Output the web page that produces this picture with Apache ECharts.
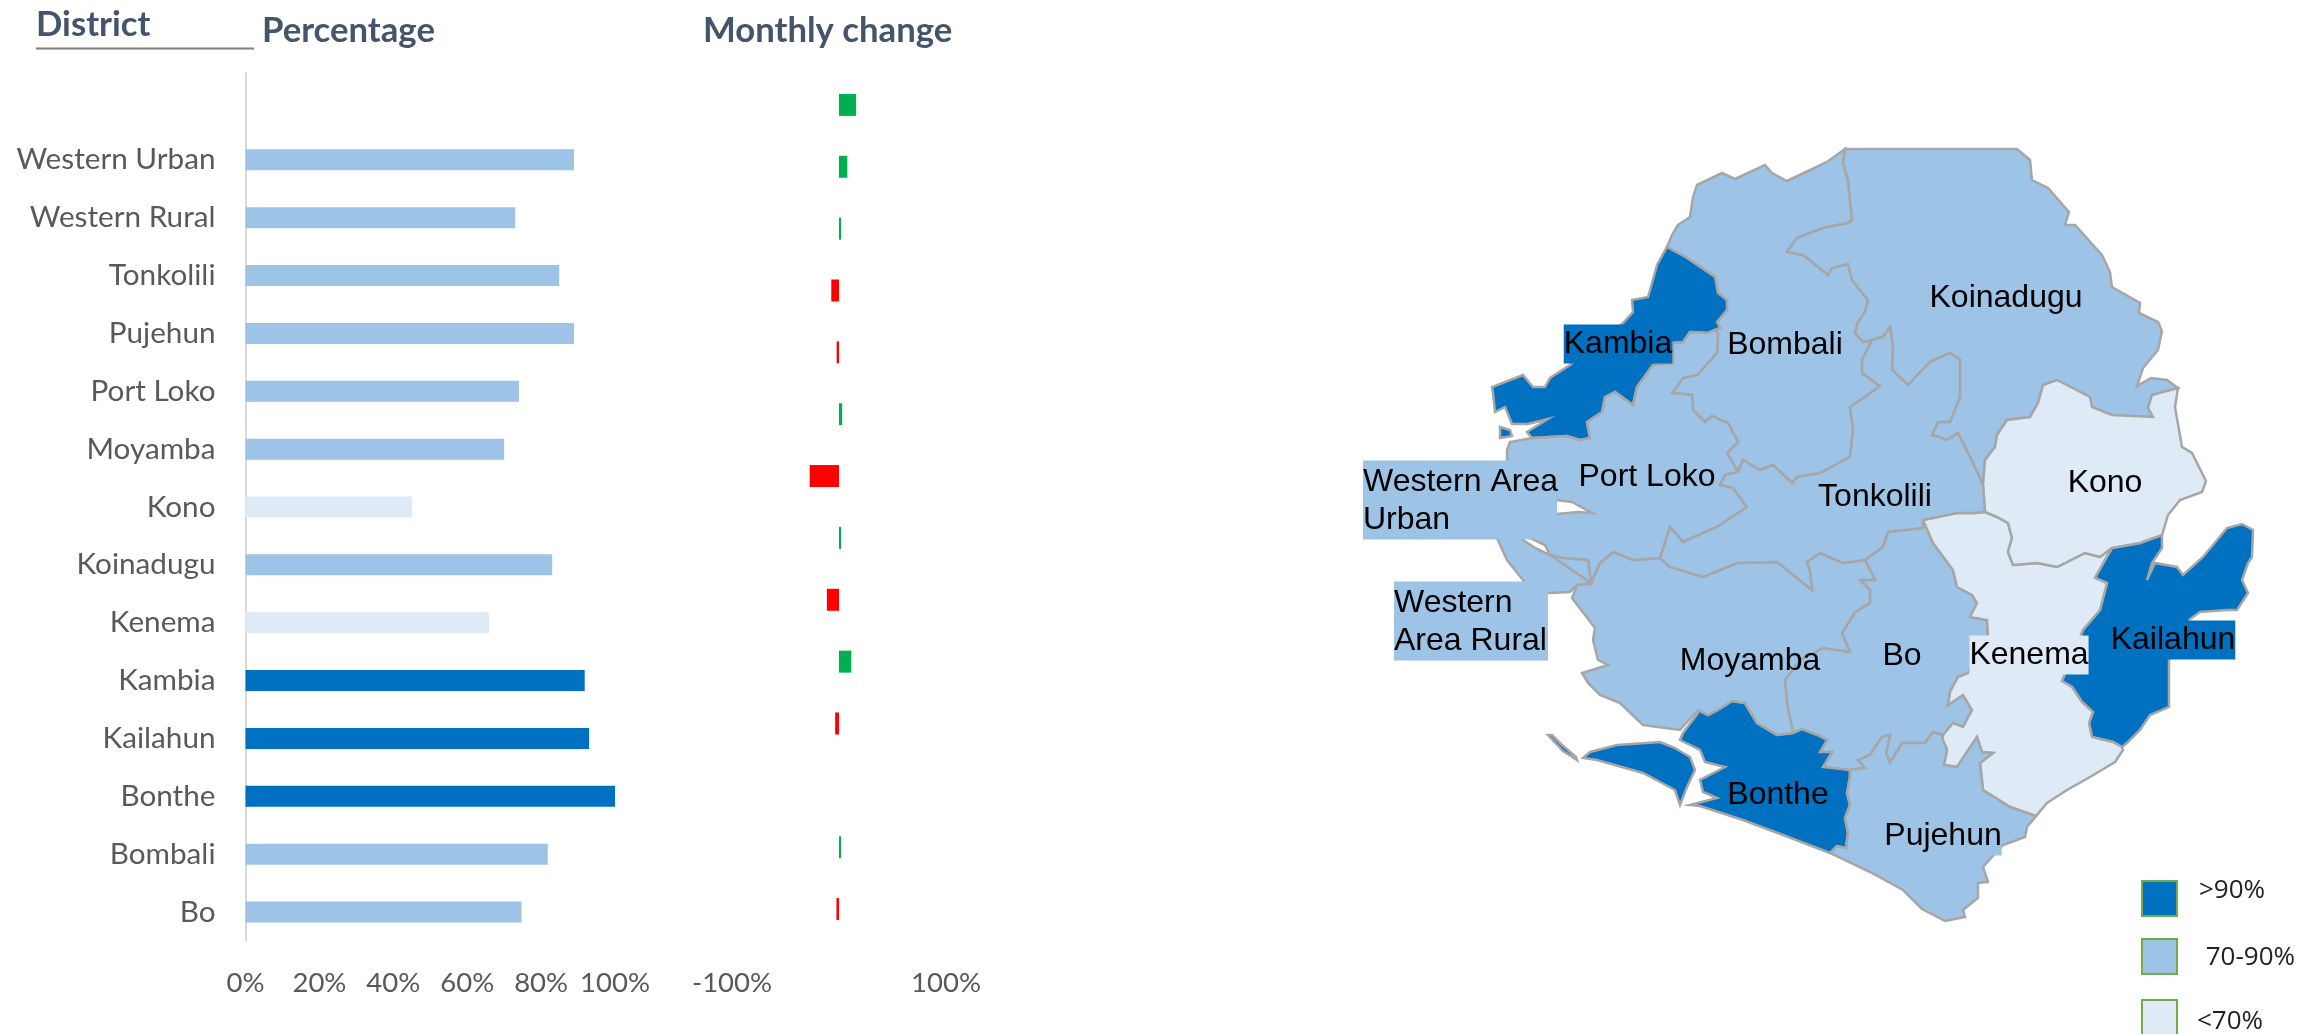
<!DOCTYPE html>
<html>
<head>
<meta charset="utf-8">
<style>
  html, body { margin: 0; padding: 0; background: #fff; }
  #main { width: 2323px; height: 1034px; }
</style>
</head>
<body>
<div id="main"></div>
<script src="https://cdn.jsdelivr.net/npm/echarts@6/dist/echarts.min.js"></script>
<script>
  // listed bottom row first, the way a category y axis counts
  const districts = ["Bo", "Bombali", "Bonthe", "Kailahun", "Kambia", "Kenema", "Koinadugu", "Kono", "Moyamba", "Port Loko", "Pujehun", "Tonkolili", "Western Rural", "Western Urban"];
  const percentValues = [74.7, 81.8, 100, 93, 91.8, 65.9, 83, 45.1, 70, 74, 88.9, 84.9, 73, 88.9];
  const changeValues = [-2.4, 2, null, -3.6, 11.5, -11.3, 2, -27.4, 3, -2.2, -7.2, 2, 7.8, 16];
  const mapLabels = ["Bo", "Bombali", "Bonthe", "Kailahun", "Kambia", "Kenema", "Koinadugu", "Kono", "Moyamba", "Port Loko", "Pujehun", "Tonkolili", "Western\nArea Rural", "Western Area\nUrban"];
  const legendLabels = [">90%", " 70-90%", "<70%"];

  const DARK = "#0070C0", MID = "#9DC3E6", PALE = "#DEEAF6";
  const bandColor = v => v > 90 ? DARK : v >= 70 ? MID : PALE;

  // district borders, each shared edge kept once
  const coastKoinadugu = [[1845,149],[2017,149],[2030,160],[2032,180],[2048,188],[2069,212],[2065,225],[2075,225],[2093,245],[2102,255],[2110,272],[2112,287],[2140,303],[2139,313],[2158,322],[2162,331],[2158,350],[2143,368],[2137,386],[2151,378],[2167,380],[2178,388]];
  const koinKono = [[1983,485],[1985,460],[1995,447],[1997,435],[2007,420],[2030,417],[2038,403],[2043,385],[2057,380],[2090,397],[2092,407],[2112,415],[2153,417],[2148,408],[2152,395],[2178,388]];
  const koinTonk = [[1872,340],[1883,337],[1890,327],[1893,347],[1892,370],[1908,385],[1930,362],[1950,353],[1960,360],[1960,397],[1950,422],[1938,422],[1932,435],[1947,440],[1958,433],[1970,457],[1983,485]];
  const bombKoin = [[1845,149],[1843,163],[1848,180],[1852,220],[1848,223],[1823,228],[1797,238],[1787,252],[1803,255],[1812,262],[1828,275],[1832,268],[1848,264],[1852,280],[1868,300],[1865,312],[1858,322],[1855,333],[1863,342],[1872,340]];
  const coastKono = [[2178,388],[2175,407],[2182,447],[2192,453],[2206,481],[2202,492],[2180,500],[2168,515],[2162,535]];
  const konoKail = [[2162,535],[2140,543],[2112,548]];
  const kenKono = [[1985,512],[1997,517],[2008,523],[2012,538],[2008,552],[2013,565],[2037,563],[2057,567],[2085,553],[2100,557],[2112,548]];
  const tonkKono = [[1985,512],[1983,485]];
  const coastKail = [[2162,535],[2162,548],[2152,563],[2147,580],[2155,563],[2177,567],[2183,575],[2203,557],[2227,528],[2242,524],[2253,530],[2252,557],[2248,563],[2242,580],[2248,593],[2237,610],[2227,610],[2200,612],[2190,619],[2169,660],[2169,707],[2150,715],[2140,730],[2128,742],[2122,747]];
  const kailKen = [[2112,548],[2105,560],[2095,578],[2107,583],[2100,610],[2083,630],[2062,681],[2072,687],[2082,702],[2093,712],[2089,723],[2092,737],[2113,742],[2122,747]];
  const coastKen = [[2122,747],[2123,750],[2115,762],[2090,777],[2067,790],[2047,803],[2036,816]];
  const kenPuj = [[1943,735],[1942,738],[1947,750],[1944,765],[1957,767],[1977,737],[1982,752],[1993,753],[1980,763],[1983,790],[2010,807],[2036,816]];
  const boKen = [[1923,520],[1933,543],[1953,570],[1957,587],[1972,595],[1977,603],[1970,617],[1987,620],[1988,635],[1968,673],[1958,677],[1950,692],[1948,705],[1963,695],[1972,710],[1963,727],[1953,723],[1943,735]];
  const tonkKen = [[1985,512],[1975,513],[1957,513],[1923,520]];
  const coastPuj = [[2036,816],[2027,827],[2025,837],[2003,845],[1992,857],[1983,867],[1988,882],[1978,883],[1978,898],[1963,910],[1965,917],[1945,921],[1922,909],[1903,890],[1870,872],[1830,853]];
  const bonthePuj = [[1850,770],[1850,777],[1847,793],[1850,805],[1845,818],[1848,833],[1846,848],[1837,846],[1830,853]];
  const boPuj = [[1943,735],[1933,732],[1925,743],[1902,743],[1890,763],[1886,753],[1890,735],[1882,737],[1870,755],[1858,760],[1865,768],[1850,770]];
  const coastBonthe = [[1830,853],[1783,835],[1743,820],[1700,806],[1690,805],[1717,798],[1703,792],[1700,780],[1725,767],[1705,762],[1700,750],[1680,740],[1683,733],[1698,713],[1698,710]];
  const bonMoy = [[1698,710],[1708,715],[1718,710],[1732,701],[1745,703],[1757,723],[1777,735],[1793,733]];
  const bonBo = [[1793,733],[1802,729],[1817,735],[1827,740],[1820,752],[1832,752],[1823,767],[1850,770]];
  const moyBo = [[1865,560],[1875,580],[1860,580],[1870,590],[1870,603],[1855,612],[1842,633],[1850,652],[1823,648],[1800,660],[1785,680],[1787,703],[1793,733]];
  const tonkBo = [[1865,560],[1883,547],[1888,532],[1923,528],[1923,520]];
  const tonkMoy = [[1660,558],[1670,567],[1703,577],[1737,563],[1777,562],[1797,578],[1812,590],[1810,572],[1807,562],[1820,553],[1843,563],[1865,560]];
  const coastMoy = [[1698,710],[1680,730],[1643,725],[1620,703],[1600,695],[1588,683],[1582,673],[1608,665],[1598,660],[1593,640],[1595,628],[1572,598],[1577,585]];
  const moyWest = [[1577,585],[1591,583]];
  const portMoy = [[1660,558],[1633,560],[1613,552],[1600,563],[1591,583]];
  const portTonk = [[1738,472],[1725,475],[1720,485],[1733,488],[1747,507],[1717,527],[1683,542],[1670,527],[1660,558]];
  const bombTonk = [[1872,340],[1862,360],[1862,373],[1880,386],[1865,397],[1850,407],[1853,430],[1850,457],[1820,473],[1797,477],[1792,483],[1773,465],[1760,470],[1743,460],[1738,472]];
  const bombPort = [[1738,472],[1727,453],[1738,442],[1728,423],[1712,416],[1705,422],[1693,410],[1692,395],[1672,393],[1683,378],[1697,375],[1717,353],[1718,333],[1715,330]];
  const coastBomb = [[1667,247],[1672,235],[1678,225],[1690,217],[1693,197],[1697,185],[1722,173],[1735,179],[1765,165],[1772,173],[1787,181],[1827,162],[1845,149]];
  const kambBomb = [[1667,247],[1687,258],[1715,277],[1718,293],[1727,300],[1727,310],[1717,322],[1720,328],[1715,330]];
  const kambPort = [[1715,330],[1708,333],[1690,332],[1683,342],[1673,343],[1673,363],[1653,365],[1637,387],[1633,405],[1615,392],[1605,397],[1602,412],[1587,422],[1590,438],[1580,440],[1567,436],[1532,438]];
  const kambCoast = [[1532,438],[1527,432],[1548,419],[1528,424],[1512,424],[1505,407],[1495,412],[1493,393],[1492,387],[1523,375],[1533,387],[1545,387],[1550,378],[1570,365],[1623,323],[1633,312],[1632,300],[1648,297],[1652,283],[1657,265],[1667,247]];
  const westPort = [[1591,583],[1588,560],[1563,558],[1550,555]];
  const coastPort = [[1550,555],[1545,545],[1530,538],[1550,530],[1557,514],[1578,512],[1592,513],[1572,502],[1557,500],[1545,490],[1507,460],[1507,450],[1510,442],[1532,438]];
  const coastWestern = [[1550,555],[1535,548],[1520,538],[1497,538],[1507,560],[1523,580],[1530,590],[1550,593],[1570,592],[1577,585]];
  const sherbroIsland = [[1590,752],[1617,745],[1660,742],[1675,748],[1690,757],[1695,770],[1687,787],[1680,805],[1675,790],[1643,773],[1597,760],[1583,758]];
  const turtleIslands = [[1548,735],[1552,735],[1562,745],[1576,757],[1577,760],[1563,751]];
  const kambiaIslet = [[1500,427],[1510,430],[1512,436],[1500,438]];
  const urbanShape = [[1497,538],[1495,520],[1520,510],[1535,520],[1520,538]];

  const rev = a => a.slice().reverse();
  const ring = (...parts) => {
    const pts = [].concat(...parts);
    pts.push(pts[0]);
    return pts;
  };

  const regionShapes = {
    "Koinadugu": [ring(coastKoinadugu, rev(koinKono), rev(koinTonk), rev(bombKoin))],
    "Kono": [ring(koinKono, coastKono, konoKail, rev(kenKono), tonkKono)],
    "Kailahun": [ring(coastKail, rev(kailKen), rev(konoKail))],
    "Kenema": [ring(kenKono, kailKen, coastKen, rev(kenPuj), rev(boKen), rev(tonkKen))],
    "Pujehun": [ring(kenPuj, coastPuj, rev(bonthePuj), rev(boPuj))],
    "Bonthe": [ring(coastBonthe, bonMoy, bonBo, bonthePuj), ring(sherbroIsland), ring(turtleIslands)],
    "Bo": [ring(boKen, boPuj, rev(bonBo), rev(moyBo), tonkBo)],
    "Moyamba": [ring(moyBo, rev(bonMoy), coastMoy, moyWest, rev(portMoy), tonkMoy)],
    "Tonkolili": [ring(koinTonk, rev(tonkKono), tonkKen, rev(tonkBo), rev(tonkMoy), rev(portTonk), rev(bombTonk))],
    "Bombali": [ring(coastBomb, bombKoin, bombTonk, bombPort, rev(kambBomb))],
    "Port Loko": [ring(rev(bombPort), portTonk, portMoy, westPort, coastPort, rev(kambPort))],
    "Kambia": [ring(kambBomb, kambPort, kambCoast), ring(kambiaIslet)],
    "Western Rural": [ring(rev(westPort), coastWestern, moyWest)],
    "Western Urban": [ring(urbanShape)]
  };

  // where each name sits on the map, text box colour where the original has one
  const labelSpots = {
    "Bo": { cp: [1902, 656] },
    "Bombali": { cp: [1785, 345] },
    "Bonthe": { cp: [1778, 795] },
    "Kailahun": { cp: [2173, 640], bg: DARK },
    "Kambia": { cp: [1618, 344], bg: DARK },
    "Kenema": { cp: [2029, 655], bg: PALE },
    "Koinadugu": { cp: [2006, 298] },
    "Kono": { cp: [2105, 483] },
    "Moyamba": { cp: [1750, 661] },
    "Port Loko": { cp: [1647, 477] },
    "Pujehun": { cp: [1943, 836], bg: MID },
    "Tonkolili": { cp: [1875, 497] },
    "Western Rural": { cp: [1471, 621], bg: MID, width: 154 },
    "Western Urban": { cp: [1460, 500], bg: MID, width: 194 }
  };

  const geoJson = {
    type: "FeatureCollection",
    features: districts.map(name => ({
      type: "Feature",
      properties: { name: name, cp: labelSpots[name].cp },
      geometry: { type: "MultiPolygon", coordinates: regionShapes[name].map(r => [r]) }
    }))
  };
  echarts.registerMap("sierraLeone", geoJson);

  const chart = echarts.init(document.getElementById("main"));

  const mapData = districts.map((name, i) => {
    const spot = labelSpots[name];
    const label = { formatter: mapLabels[i] };
    if (spot.bg) {
      label.backgroundColor = spot.bg;
      label.padding = [2, 0, 0, 0];
      label.lineHeight = 37;
    }
    // the two Western names are left aligned inside their box
    if (spot.width) {
      label.formatter = mapLabels[i].split("\n").map(t => "{w|" + t + "}").join("\n");
      label.rich = { w: { width: spot.width, align: "left", fontSize: 32, lineHeight: 38.5, fontFamily: "Liberation Sans", color: "#000" } };
    }
    return { name: name, value: percentValues[i], itemStyle: { areaColor: bandColor(percentValues[i]) }, label: label };
  });

  const categoryFont = { color: "#595959", fontFamily: "Lato", fontSize: 29.7 };
  const valueFont = { color: "#595959", fontFamily: "Lato", fontSize: 27.5 };
  const titleFont = { color: "#44546A", fontFamily: "Lato", fontWeight: "bold", fontSize: 34.7 };

  const legendGraphic = [];
  const legendTops = [881, 939, 1000];
  const legendColors = [DARK, MID, PALE];
  const legendTextX = [2199, 2199, 2197];
  const legendTextY = [891, 958, 1022];
  legendLabels.forEach((text, i) => {
    legendGraphic.push({
      type: "rect",
      shape: { x: 2142, y: legendTops[i], width: 35, height: 35 },
      style: { fill: legendColors[i], stroke: "#70AD47", lineWidth: 2 }
    });
    legendGraphic.push({
      type: "text",
      x: legendTextX[i],
      y: legendTextY[i],
      style: { text: text, fill: "#222", font: "26px 'Open Sans'", textVerticalAlign: "middle" }
    });
  });

  chart.setOption({
    animation: false,
    backgroundColor: "#fff",
    title: [
      { text: "District", left: 31, top: 2, textStyle: titleFont },
      { text: "Percentage", left: 257, top: 8, textStyle: titleFont },
      { text: "Monthly change", left: 698, top: 8, textStyle: titleFont }
    ],
    graphic: legendGraphic.concat([{
      type: "line",
      shape: { x1: 36, y1: 48.5, x2: 254, y2: 48.5 },
      style: { stroke: "#7F7F7F", lineWidth: 2 }
    }]),
    grid: [
      { left: 245.5, top: 73, width: 369.5, height: 868 },
      { left: 732, top: 74, width: 214, height: 866 }
    ],
    xAxis: [
      {
        gridIndex: 0,
        type: "value",
        min: 0,
        max: 100,
        interval: 20,
        axisLine: { show: false },
        axisTick: { show: false },
        splitLine: { show: false },
        axisLabel: Object.assign({ formatter: "{value}%", margin: 28, hideOverlap: false }, valueFont)
      },
      {
        gridIndex: 1,
        type: "value",
        min: -100,
        max: 100,
        interval: 100,
        axisLine: { show: false },
        axisTick: { show: false },
        splitLine: { show: false },
        axisLabel: Object.assign({ formatter: v => v === 0 ? "" : v + "%", margin: 29 }, valueFont)
      }
    ],
    yAxis: [
      {
        gridIndex: 0,
        type: "category",
        data: districts.concat([""]),
        axisLine: { lineStyle: { color: "#D9D9D9", width: 2 } },
        axisTick: { show: false },
        axisLabel: Object.assign({ margin: 30, interval: 0, padding: [3, 0, 0, 0] }, categoryFont)
      },
      {
        gridIndex: 1,
        type: "category",
        data: districts,
        axisLine: { show: false },
        axisTick: { show: false },
        axisLabel: { show: false }
      }
    ],
    series: [
      {
        type: "bar",
        name: "Percentage",
        xAxisIndex: 0,
        yAxisIndex: 0,
        barWidth: 21,
        silent: true,
        data: percentValues.map(v => ({ value: v, itemStyle: { color: bandColor(v) } }))
      },
      {
        type: "bar",
        name: "Monthly change",
        xAxisIndex: 1,
        yAxisIndex: 1,
        barWidth: 22,
        silent: true,
        data: changeValues.map(v => ({ value: v, itemStyle: { color: v < 0 ? "#FF0000" : "#00B050" } }))
      },
      {
        type: "map",
        map: "sierraLeone",
        projection: { project: p => p, unproject: p => p },
        boundingCoords: [[0, 0], [2323, 1034]],
        left: 0,
        top: 0,
        width: 2323,
        height: 1034,
        roam: false,
        silent: true,
        selectedMode: false,
        emphasis: { disabled: true },
        itemStyle: { borderColor: "#A6A6A6", borderWidth: 2.5 },
        label: {
          show: true,
          color: "#000",
          fontFamily: "Liberation Sans",
          fontSize: 32,
          lineHeight: 39
        },
        data: mapData
      }
    ]
  });
</script>
</body>
</html>
